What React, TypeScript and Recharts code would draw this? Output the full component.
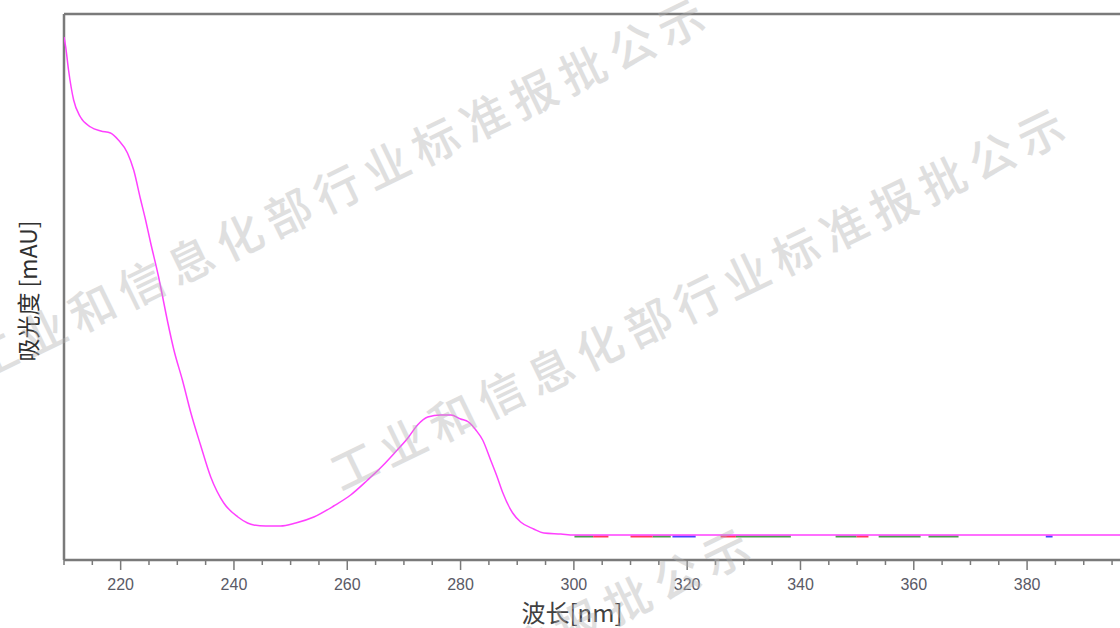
import React from "react";
import { LineChart, Line, XAxis, YAxis, ReferenceLine } from "recharts";

// Spectrum: wavelength (nm) and absorbance (mAU)
const wavelengths = [
  210.0, 210.3, 210.8, 211.7, 212.9, 214.7, 216.5, 218.2, 219.6, 221.2, 222.3, 223.5,
  224.4, 225.3, 226.7, 227.1, 228.3, 229.4, 230.9, 232.4, 234.1, 235.9, 238.2,
  240.7, 242.4, 243.5, 245.6, 248.2, 250.9, 254.1, 257.6, 260.6, 263.6, 266.2, 268.5,
  270.7, 272.4, 274.2, 276.5, 278.3, 280.0, 281.4, 282.7, 283.9, 285.3, 286.4, 287.4,
  289.2, 290.6, 292.9, 294.7, 297.7, 300.0, 320.0, 340.0, 360.0, 380.0, 396.4,
];
const absorbance = [
  1046, 1026, 980, 920, 886, 866, 858, 854, 840, 814, 780, 722,
  680, 634, 566, 544, 476, 420, 360, 294, 230, 166, 114,
  86, 74, 70, 68, 68, 74, 86, 108, 130, 160, 188, 216,
  244, 270, 286, 290, 290, 282, 276, 260, 240, 200, 168, 136,
  94, 76, 62, 54, 52, 50, 50, 50, 50, 50, 50,
];

// Small peak-marker segments along the baseline (start, end wavelengths)
const markLevel = 47;
const greenMarks = [
  [300.1, 303.4], [313.9, 317.1], [328.6, 338.3], [346.2, 349.9], [353.8, 361.2], [362.6, 367.9],
];
const redMarks = [
  [303.4, 306.1], [310.0, 313.9], [325.9, 328.6], [349.9, 352.0],
];
const blueMarks = [
  [317.4, 321.5], [383.3, 384.5],
];

const xTicks = [
  210, 215, 220, 225, 230, 235, 240, 245, 250, 255, 260, 265, 270, 275, 280, 285, 290, 295,
  300, 305, 310, 315, 320, 325, 330, 335, 340, 345, 350, 355, 360, 365, 370, 375, 380, 385,
  390, 395,
];
const labeledTicks = [220, 240, 260, 280, 300, 320, 340, 360, 380];

const xTitle = "波长[nm]";
const yTitle = "吸光度 [mAU]";
const watermark = "工业和信息化部行业标准报批公示";

const spectrum = wavelengths.map((x, i) => ({ x, y: absorbance[i] }));

const segData = (segs: number[][]) => {
  const out: { x: number; y: number | null }[] = [];
  segs.forEach(([a, b]) => {
    out.push({ x: a, y: markLevel });
    out.push({ x: b, y: markLevel });
    out.push({ x: b + 0.05, y: null });
  });
  return out;
};

const AXIS_COLOR = "#7a7a7a";

const Tick = (props: any) => {
  const { x, y, payload } = props;
  const v = payload.value as number;
  const major = labeledTicks.includes(v);
  return (
    <g>
      <line x1={x} x2={x} y1={y} y2={y + (major ? 10 : 5)} stroke={AXIS_COLOR} strokeWidth={1.5} />
      {major && (
        <text
          x={x}
          y={y + 30}
          textAnchor="middle"
          fontFamily="Liberation Sans, Arial, sans-serif"
          fontSize={16}
          fill="#5a5a66"
        >
          {v}
        </text>
      )}
    </g>
  );
};

const W = 1120;
const H = 628;

const Watermark = ({ cx, cy }: { cx: number; cy: number }) => (
  <text
    transform={`translate(${cx},${cy}) rotate(-25.9)`}
    textAnchor="middle"
    dominantBaseline="central"
    fontFamily="Noto Sans CJK SC, sans-serif"
    fontWeight={500}
    fontSize={46}
    letterSpacing={8.5}
    fill="#b0b0b0"
    opacity={0.4}
  >
    {watermark}
  </text>
);

export default function App() {
  return (
    <div style={{ position: "fixed", left: 0, top: 0, width: W, height: H, background: "#fff", overflow: "hidden" }}>
      <LineChart width={W} height={H} margin={{ top: 14, right: 0, left: 64, bottom: 0 }}>
        <XAxis
          dataKey="x"
          type="number"
          domain={[210, 396.4]}
          allowDataOverflow
          ticks={xTicks}
          interval={0}
          tickSize={0}
          tickMargin={0}
          tickLine={false}
          tick={<Tick />}
          height={68}
          axisLine={{ stroke: AXIS_COLOR, strokeWidth: 2.5 }}
        />
        <YAxis
          dataKey="y"
          type="number"
          domain={[0, 1092]}
          allowDataOverflow
          hide
        />
        <ReferenceLine y={1092} stroke={AXIS_COLOR} strokeWidth={2.5} ifOverflow="visible" />
        <ReferenceLine x={210} stroke={AXIS_COLOR} strokeWidth={2.5} ifOverflow="visible" />
        <Line data={segData(greenMarks)} dataKey="y" stroke="#4f9a4f" strokeWidth={2} dot={false} isAnimationActive={false} connectNulls={false} type="linear" />
        <Line data={segData(redMarks)} dataKey="y" stroke="#ff3a5a" strokeWidth={2} dot={false} isAnimationActive={false} connectNulls={false} type="linear" />
        <Line data={segData(blueMarks)} dataKey="y" stroke="#4646ff" strokeWidth={2} dot={false} isAnimationActive={false} connectNulls={false} type="linear" />
        <Line data={spectrum} dataKey="y" stroke="#ff40ff" strokeWidth={1.5} dot={false} isAnimationActive={false} type="monotone" />
      </LineChart>
      <svg width={W} height={H} style={{ position: "absolute", left: 0, top: 0, pointerEvents: "none" }}>
        <text
          x={572}
          y={611}
          textAnchor="middle"
          dominantBaseline="central"
          fontFamily="Noto Sans CJK SC, sans-serif"
          fontSize={24}
          fill="#404040"
        >
          {xTitle}
        </text>
        <text
          transform="translate(27,291) rotate(-90)"
          textAnchor="middle"
          dominantBaseline="central"
          fontFamily="Noto Sans CJK SC, sans-serif"
          fontSize={23}
          fill="#303030"
        >
          {yTitle}
        </text>
        <Watermark cx={340} cy={185} />
        <Watermark cx={700} cy={295} />
        <Watermark cx={385} cy={715} />
      </svg>
    </div>
  );
}
